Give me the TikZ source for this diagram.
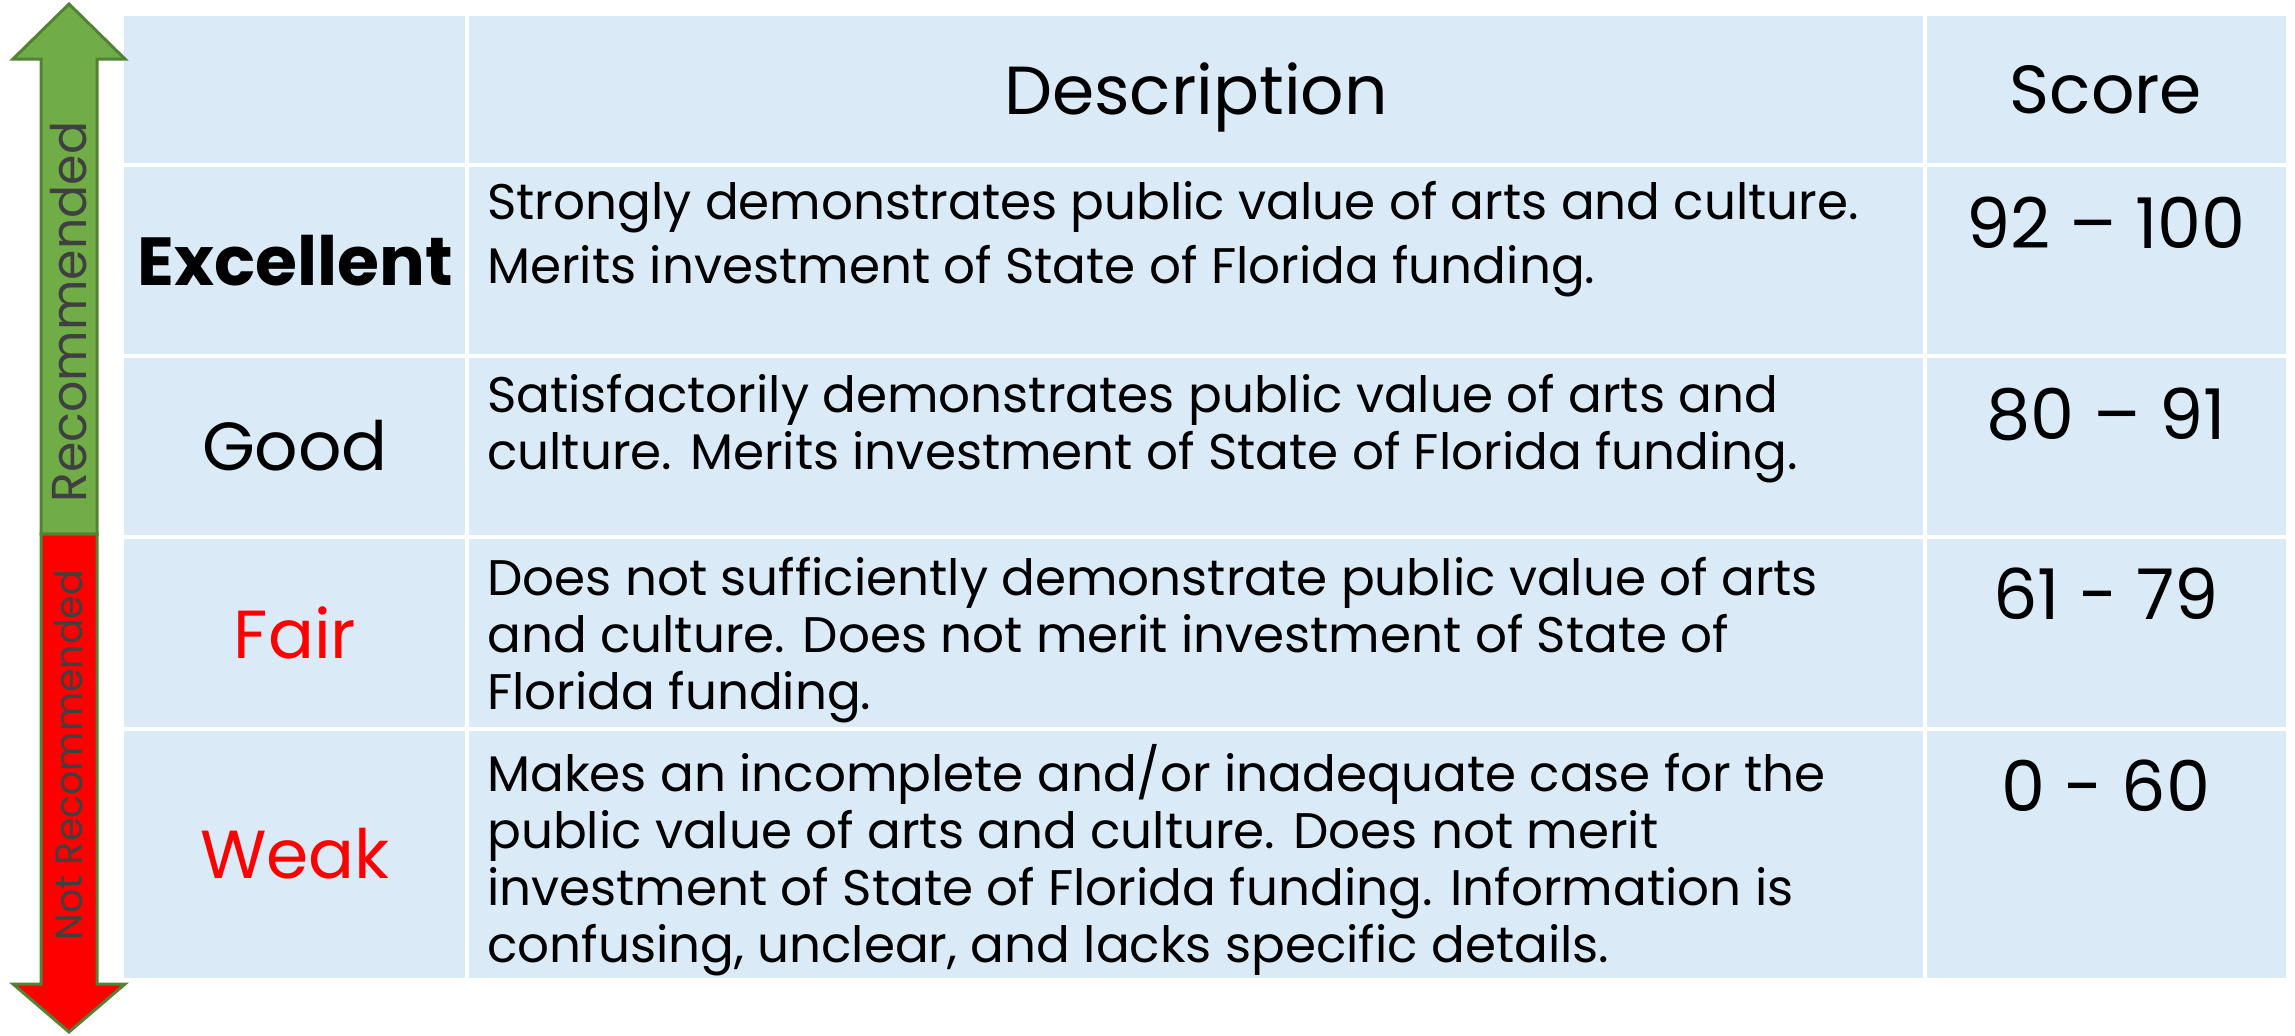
\documentclass[tikz,border=0pt]{standalone}
\usepackage{fontspec}
\setmainfont{Poppins}
\definecolor{cellblue}{RGB}{218,234,247}
\definecolor{upgreen}{RGB}{112,173,71}
\definecolor{edgegreen}{RGB}{84,130,53}
\definecolor{downred}{RGB}{255,0,0}
\definecolor{arrowgray}{RGB}{64,64,64}
\tikzset{
  gridline/.style={white, line width=4pt},
  headtext/.style={font=\fontsize{68}{80}\selectfont, anchor=base, inner sep=0pt},
  grade/.style={font=\fontsize{68}{80}\selectfont, anchor=base, inner sep=0pt},
  desc/.style={font=\fontsize{50}{57}\selectfont, anchor=north west, align=left, inner sep=0pt},
  score/.style={font=\fontsize{70}{80}\selectfont, anchor=base, inner sep=0pt},
  arrowtext/.style={text=arrowgray, rotate=90, inner sep=0pt}
}
\begin{document}
\begin{tikzpicture}[x=1pt,y=-1pt]
\useasboundingbox (0,0) rectangle (2295,1036);

% table
\fill [cellblue] (124,16) rectangle (2286,978);
\draw [gridline] (467,16) -- (467,978);
\draw [gridline] (1925,16) -- (1925,978);
\draw [gridline] (124,165) -- (2286,165);
\draw [gridline] (124,356) -- (2286,356);
\draw [gridline] (124,537) -- (2286,537);
\draw [gridline] (124,729) -- (2286,729);

% arrow
\draw [fill=upgreen, draw=edgegreen, line width=3pt, line join=miter]
  (69,4) -- (125,59) -- (97,59) -- (97,534) -- (41,534) -- (41,59) -- (13,59) -- cycle;
\draw [fill=downred, draw=edgegreen, line width=3pt, line join=miter]
  (41,534) -- (97,534) -- (97,984) -- (125,984) -- (69,1032) -- (13,984) -- (41,984) -- cycle;
\node [arrowtext, font=\fontsize{49}{55}\selectfont] (rec) at (69,312) {Recommended};
\node [arrowtext, font=\fontsize{38}{44}\selectfont] (notrec) at (69,755) {Not Recommended};

% header
\node [headtext] (deschead) at (1196,114) {Description};
\node [headtext] (scorehead) at (2106,113) {Score};

% grades
\node [grade, font=\fontsize{68}{80}\bfseries] (excellent) at (295,285) {Excellent};
\node [grade] (good) at (295,470) {Good};
\node [grade, text=downred] (fair) at (295,658) {Fair};
\node [grade, text=downred] (weak) at (295,878) {Weak};

% descriptions
\node [desc, font=\fontsize{50}{64}\selectfont] (descexc) at (487,181) {Strongly demonstrates public value of arts and culture.\\Merits investment of State of Florida funding.};
\node [desc] (descgood) at (487,374) {Satisfactorily demonstrates public value of arts and\\culture. Merits investment of State of Florida funding.};
\node [desc] (descfair) at (487,557) {Does not sufficiently demonstrate public value of arts\\and culture. Does not merit investment of State of\\Florida funding.};
\node [desc] (descweak) at (487,744) {Makes an incomplete and/or inadequate case for the\\public value of arts and culture. Does not merit\\investment of State of Florida funding. Information is\\confusing, unclear, and lacks specific details.};

% scores
\node [score] (s1) at (2106,248) {92 – 100};
\node [score] (s2) at (2106,439) {80 – 91};
\node [score] (s3) at (2106,619) {61 - 79};
\node [score] (s4) at (2106,811) {0 - 60};
\end{tikzpicture}
\end{document}
